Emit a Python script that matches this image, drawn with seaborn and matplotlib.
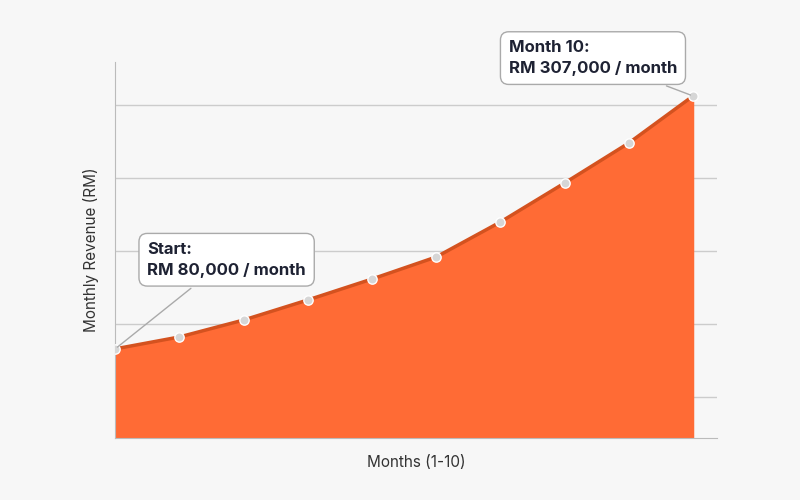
import matplotlib
matplotlib.use("Agg")
import matplotlib.pyplot as plt
import seaborn as sns
import pandas as pd

months = [1, 2, 3, 4, 5, 6, 7, 8, 9, 10]
revenue = [80000, 90700, 105900, 123900, 142700, 162500, 193900, 228900, 264800, 307000]
grid_vals = [37000, 102000, 168000, 233000, 299000]

df = pd.DataFrame({"Month": months, "Revenue": revenue})
sns.set_style("white")
plt.rcParams['font.family'] = ['Inter', 'DejaVu Sans']
bg = "#F7F7F7"
fig = plt.figure(figsize=(8, 5), dpi=100, facecolor=bg)
ax = fig.add_axes([0.144, 0.124, 0.752, 0.752], facecolor=bg)

ax.fill_between(df["Month"], df["Revenue"], color="#FF6B35", zorder=2)
sns.lineplot(data=df, x="Month", y="Revenue", ax=ax, color="#D4521F", lw=2.5, zorder=3)
sns.scatterplot(data=df, x="Month", y="Revenue", ax=ax, color="#D6D6D6", edgecolor="white",
                s=45, linewidth=1, zorder=4)

ax.set_xlim(1, 10.37)
ax.set_ylim(0, 337500)
ax.set_yticks(grid_vals)
ax.set_yticklabels([])
ax.set_xticks([])
ax.yaxis.grid(True, color="#CCCCCC", lw=1)
ax.set_axisbelow(True)
for s in ["top", "right"]:
    ax.spines[s].set_visible(False)
for s in ["left", "bottom"]:
    ax.spines[s].set_color("#BBBBBB")
ax.tick_params(length=0)
ax.set_xlabel("Months (1-10)", fontsize=11, color="#333333", labelpad=12)
ax.set_ylabel("Monthly Revenue (RM)", fontsize=11, color="#333333", labelpad=8)

box = dict(boxstyle="round,pad=0.5", fc="white", ec="#AAAAAA", lw=1)
ax.annotate("Start:\nRM 80,000 / month", xy=(months[0], revenue[0]), xytext=(1.5, 160000),
            fontsize=12, fontweight="bold", color="#1E2233", bbox=box, va="center",
            linespacing=1.5,
            arrowprops=dict(arrowstyle="-", color="#AAAAAA", lw=1), zorder=5)
ax.annotate("Month 10:\nRM 307,000 / month", xy=(months[-1], revenue[-1]), xytext=(7.13, 341000),
            fontsize=12, fontweight="bold", color="#1E2233", bbox=box, va="center",
            linespacing=1.5, annotation_clip=False,
            arrowprops=dict(arrowstyle="-", color="#AAAAAA", lw=1), zorder=5)

fig.savefig("out.png", dpi=100, facecolor=bg)
